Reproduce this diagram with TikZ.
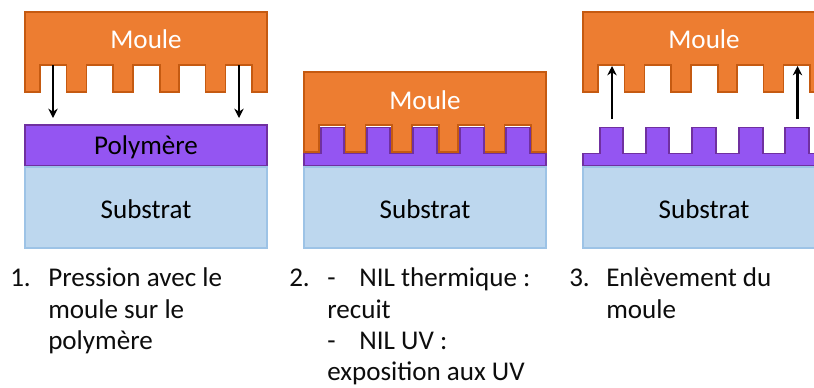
\documentclass[tikz,border=0pt]{standalone}
\usepackage{fontspec}
\setmainfont{Carlito}
\usepackage{tikz}
\usetikzlibrary{arrows.meta}
\definecolor{mouleorange}{HTML}{ED7D31}
\definecolor{mouleedge}{HTML}{C55A11}
\definecolor{polyviolet}{HTML}{9455F2}
\definecolor{polyedge}{HTML}{7030A0}
\definecolor{substratblue}{HTML}{BDD7EE}
\definecolor{substratedge}{HTML}{9DC3E6}
\tikzstyle{mouleshape} = [draw=mouleedge, line width=1.1pt, fill=mouleorange, line join=miter]
\tikzstyle{polyshape} = [draw=polyedge, line width=1.1pt, fill=polyviolet]
\tikzstyle{layerfont} = [font=\fontsize{20.3}{24}\selectfont, inner sep=0pt]
\tikzstyle{caption} = [font=\fontsize{20.3}{23.6}\selectfont, inner sep=0pt, anchor=north west, align=left, text=black!95]
\tikzstyle{substratbox} = [rectangle, draw=substratedge, line width=1.1pt, fill=substratblue,
  minimum width=181.5pt, minimum height=60.5pt, layerfont, text height=16.5pt]
\tikzstyle{polybox} = [rectangle, polyshape, minimum width=181.5pt, minimum height=30.5pt, layerfont, text depth=0pt]
\tikzstyle{arrowstyle} = [-{Stealth[length=7pt,width=7pt]}, line width=1.8pt]
% outlines, in px from the top left corner
\newcommand{\moulepath}{(0,0) -- (242,0) -- (242,80) -- (227,80) -- (227,53) -- (200.5,53) -- (200.5,80)
  -- (180.5,80) -- (180.5,53) -- (154,53) -- (154,80) -- (135,80) -- (135,53) -- (108,53) -- (108,80)
  -- (88,80) -- (88,53) -- (61.5,53) -- (61.5,80) -- (41.5,80) -- (41.5,53) -- (15,53) -- (15,80) -- (0,80) -- cycle}
\newcommand{\polypath}{(0,26) -- (17,26) -- (17,0) -- (40,0) -- (40,26) -- (63,26) -- (63,0) -- (86,0) -- (86,26)
  -- (109,26) -- (109,0) -- (133,0) -- (133,26) -- (156,26) -- (156,0) -- (180,0) -- (180,26) -- (202,26)
  -- (202,0) -- (226,0) -- (226,26) -- (242,26) -- (242,38.5) -- (0,38.5) -- cycle}

\begin{document}
\begin{tikzpicture}[x=0.75pt,y=-0.75pt]
\useasboundingbox (0,0) rectangle (814,387);

% --- Panel 1 ---
\draw[mouleshape, shift={(25,12)}] \moulepath;
\node[layerfont, text=white] (mouleA) at (146,39) {Moule};
\node[polybox] (polyA) at (146,145.5) {Polymère};
\node[substratbox] (substratA) at (146,207.5) {Substrat};
\coordinate (mouleAleft) at (53,65);
\coordinate (polyAleft) at (53,118);
\coordinate (mouleAright) at (239,65);
\coordinate (polyAright) at (239,118);
\draw[arrowstyle] (mouleAleft) -- (polyAleft);
\draw[arrowstyle] (mouleAright) -- (polyAright);

% --- Panel 2 ---
\draw[mouleshape, shift={(304,72)}] \moulepath;
\draw[polyshape, shift={(304,127.5)}] \polypath;
\node[layerfont, text=white] (mouleB) at (425,100) {Moule};
\node[substratbox] (substratB) at (425,207.5) {Substrat};

% --- Panel 3 ---
\draw[mouleshape, shift={(583,12)}] \moulepath;
\draw[polyshape, shift={(583,127.5)}] \polypath;
\node[layerfont, text=white] (mouleC) at (704,39) {Moule};
\node[substratbox] (substratC) at (704,207.5) {Substrat};
\coordinate (polyCleft) at (612,119);
\coordinate (mouleCleft) at (612,66);
\coordinate (polyCright) at (797.5,119);
\coordinate (mouleCright) at (797.5,66);
\draw[arrowstyle] (polyCleft) -- (mouleCleft);
\draw[arrowstyle] (polyCright) -- (mouleCright);

% --- Captions ---
\node[caption] (numA) at (10,267.5) {\vphantom{l}1.};
\node[caption] (textA) at (48,267.5) {Pression avec le\\moule sur le\\polymère};
\node[caption] (numB) at (289,267.5) {\vphantom{l}2.};
\node[caption] (textB) at (327,267.5) {-\hspace{0.88em}NIL thermique :\\recuit\\-\hspace{0.88em}NIL UV :\\exposition aux UV};
\node[caption] (numC) at (569,267.5) {\vphantom{l}3.};
\node[caption] (textC) at (606,267.5) {Enlèvement du\\moule};

\end{tikzpicture}
\end{document}
